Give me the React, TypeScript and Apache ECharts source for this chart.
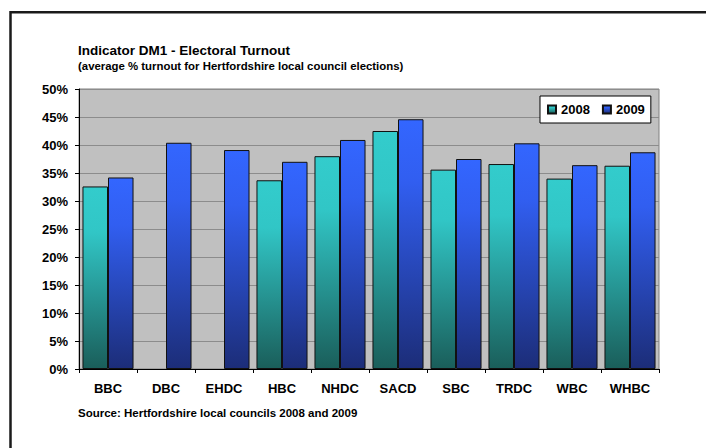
import React, { useEffect, useRef } from "react";
import * as echarts from "echarts";

const categories = ["BBC", "DBC", "EHDC", "HBC", "NHDC", "SACD", "SBC", "TRDC", "WBC", "WHBC"];
const turnout2008: (number | null)[] = [32.6, null, null, 33.7, 38.0, 42.5, 35.6, 36.6, 34.0, 36.3];
const turnout2009: number[] = [34.2, 40.4, 39.1, 37.0, 40.9, 44.6, 37.5, 40.3, 36.4, 38.7];
const seriesNames = ["2008", "2009"];
const titleText = "Indicator DM1 - Electoral Turnout";
const subtitleText = "(average % turnout for Hertfordshire local council elections)";
const sourceText = "Source: Hertfordshire local councils 2008 and 2009";

const FONT = "'Liberation Sans', Arial, sans-serif";

export default function App() {
  const ref = useRef<HTMLDivElement>(null);
  useEffect(() => {
    if (!ref.current) return;
    const chart = echarts.init(ref.current, null, { renderer: "svg" });
    const grad2008 = new echarts.graphic.LinearGradient(0, 0, 0, 1, [
      { offset: 0, color: "#33CCCC" },
      { offset: 0.25, color: "#31C6C6" },
      { offset: 1, color: "#1A5E5A" },
    ]);
    const grad2009 = new echarts.graphic.LinearGradient(0, 0, 0, 1, [
      { offset: 0, color: "#3366FF" },
      { offset: 0.25, color: "#315EF0" },
      { offset: 1, color: "#1C2D78" },
    ]);
    chart.setOption({
      animation: false,
      backgroundColor: "#ffffff",
      textStyle: { fontFamily: FONT },
      grid: {
        left: 79,
        right: 47,
        top: 89,
        bottom: 79,
        show: true,
        backgroundColor: "#C0C0C0",
        borderColor: "#808080",
        borderWidth: 1,
      },
      legend: {
        data: seriesNames,
        left: 540,
        top: 96,
        orient: "horizontal",
        itemWidth: 8,
        itemHeight: 8,
        itemGap: 12,
        padding: [7, 6, 7, 7],
        backgroundColor: "#ffffff",
        borderColor: "#000000",
        borderWidth: 1,
        icon: "rect",
        textStyle: { fontFamily: FONT, fontSize: 13, fontWeight: "bold", color: "#000" },
      },
      xAxis: {
        type: "category",
        data: categories,
        axisLine: { lineStyle: { color: "#000", width: 1 } },
        axisTick: { show: true, length: 4, lineStyle: { color: "#000" } },
        axisLabel: {
          fontFamily: FONT,
          fontSize: 13,
          fontWeight: "bold",
          color: "#000",
          margin: 13,
          interval: 0,
        },
      },
      yAxis: {
        type: "value",
        min: 0,
        max: 50,
        interval: 5,
        axisLine: { show: true, lineStyle: { color: "#000", width: 1 } },
        axisTick: { show: true, length: 4, lineStyle: { color: "#000" } },
        axisLabel: {
          formatter: "{value}%",
          fontFamily: FONT,
          fontSize: 13,
          fontWeight: "bold",
          color: "#000",
          margin: 11,
        },
        splitLine: { show: true, lineStyle: { color: "#8C8C8C", width: 1 } },
      },
      series: [
        {
          name: seriesNames[0],
          type: "bar",
          data: turnout2008.map((v) => (v === null ? "-" : v)),
          barGap: "0%",
          barCategoryGap: "12%",
          itemStyle: { color: grad2008, borderColor: "#111", borderWidth: 1 },
        },
        {
          name: seriesNames[1],
          type: "bar",
          data: turnout2009,
          barGap: "0%",
          barCategoryGap: "12%",
          itemStyle: { color: grad2009, borderColor: "#111", borderWidth: 1 },
        },
      ],
      graphic: [
        {
          type: "rect",
          shape: { x: 10.5, y: 12.2, width: 900, height: 700 },
          style: { fill: "none", stroke: "#1a1a1a", lineWidth: 2.5 },
          silent: true,
        },
        {
          type: "text",
          x: 78,
          y: 50,
          style: {
            text: titleText,
            font: `bold 13.5px ${FONT}`,
            fill: "#000",
            textVerticalAlign: "middle",
          },
        },
        {
          type: "text",
          x: 78,
          y: 66,
          style: {
            text: subtitleText,
            font: `bold 11.4px ${FONT}`,
            fill: "#000",
            textVerticalAlign: "middle",
          },
        },
        {
          type: "text",
          x: 78,
          y: 413,
          style: {
            text: sourceText,
            font: `bold 11.5px ${FONT}`,
            fill: "#000",
            textVerticalAlign: "middle",
          },
        },
      ],
    });
    return () => chart.dispose();
  }, []);
  return (
    <div
      ref={ref}
      style={{ position: "fixed", left: 0, top: 0, width: 706, height: 448 }}
    />
  );
}
